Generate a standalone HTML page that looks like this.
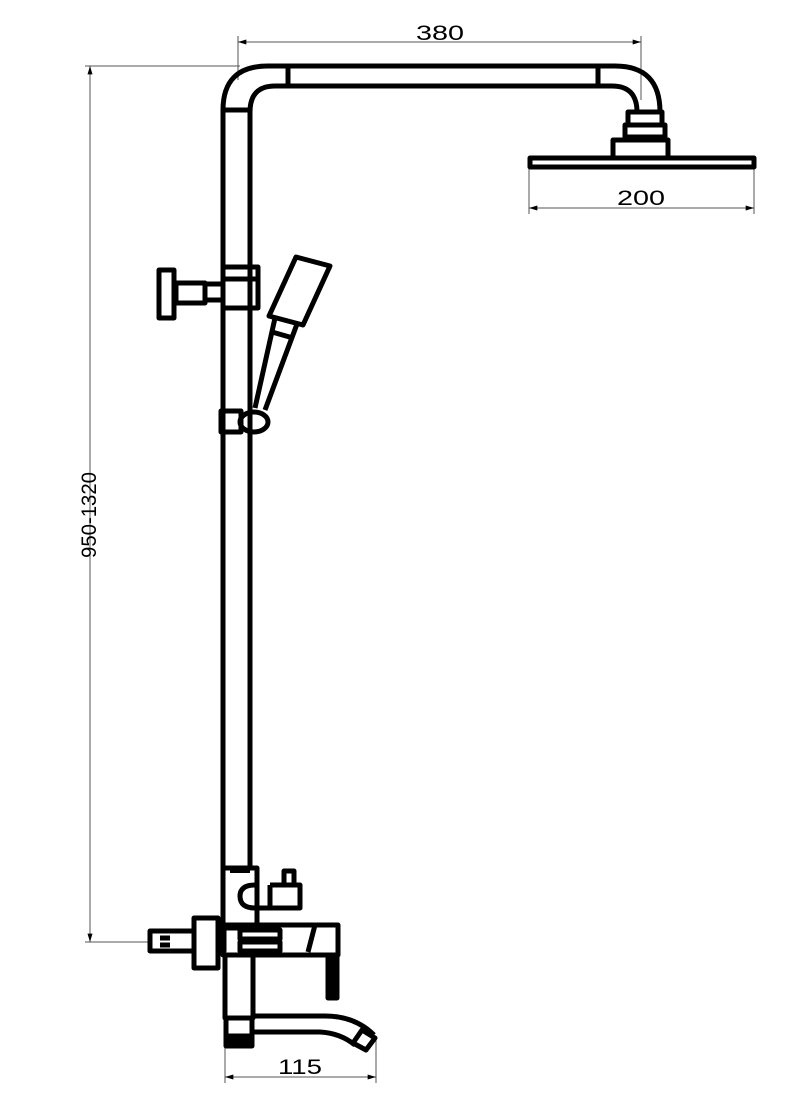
<!DOCTYPE html>
<html><head><meta charset="utf-8"><style>
html,body{margin:0;padding:0;background:#fff}
svg{display:block}
text{font-family:"Liberation Sans",sans-serif;fill:#000}
</style></head><body>
<svg width="788" height="1109" viewBox="0 0 788 1109">
<defs>
<marker id="a" viewBox="0 0 10 6" refX="10" refY="3" markerWidth="14" markerHeight="5" orient="auto-start-reverse"><path d="M0,0 L10,3 L0,6z" fill="#000"/></marker>
</defs>
<g stroke="#555" stroke-width="1" fill="none">
<line x1="85" y1="66" x2="240" y2="66"/>
<line x1="85" y1="942" x2="150" y2="942"/>
<line x1="90" y1="66" x2="90" y2="942" marker-start="url(#a)" marker-end="url(#a)"/>
<line x1="238" y1="36" x2="238" y2="80"/>
<line x1="641" y1="36" x2="641" y2="100"/>
<line x1="238" y1="42" x2="641" y2="42" marker-start="url(#a)" marker-end="url(#a)"/>
<line x1="529" y1="168" x2="529" y2="214"/>
<line x1="754" y1="168" x2="754" y2="214"/>
<line x1="529" y1="208" x2="754" y2="208" marker-start="url(#a)" marker-end="url(#a)"/>
<line x1="225" y1="1040" x2="225" y2="1083"/>
<line x1="376" y1="1040" x2="376" y2="1083"/>
<line x1="225" y1="1077" x2="376" y2="1077" marker-start="url(#a)" marker-end="url(#a)"/>
</g>
<text x="440" y="40" font-size="21" text-anchor="middle" textLength="48" lengthAdjust="spacingAndGlyphs">380</text>
<text x="641" y="205" font-size="21" text-anchor="middle" textLength="48" lengthAdjust="spacingAndGlyphs">200</text>
<text x="300" y="1074" font-size="21" text-anchor="middle" textLength="44" lengthAdjust="spacingAndGlyphs">115</text>
<text transform="translate(96,515) rotate(-90)" font-size="21" text-anchor="middle" textLength="86" lengthAdjust="spacingAndGlyphs">950-1320</text>

<g stroke="#000" stroke-width="5" fill="none" stroke-linejoin="round">
<path d="M223,868 L223,110 Q223,66 268,66 L615,66 Q660,66 660,112"/>
<path d="M250,868 L250,112 Q250,86 275,86 L612,86 Q637,86 637,112"/>
<line x1="223" y1="110" x2="250" y2="110"/>
<line x1="288" y1="66" x2="288" y2="86"/>
<line x1="598" y1="66" x2="598" y2="86"/>
<line x1="637" y1="112" x2="660" y2="112"/>
<rect x="628" y="112" width="34" height="13"/>
<rect x="625" y="125" width="40" height="12"/>
<rect x="613" y="140" width="55" height="18"/>
<rect x="530" y="158" width="224" height="9"/>
<rect x="223" y="267" width="35" height="41"/>
<line x1="223" y1="279" x2="258" y2="279"/>
<rect x="205" y="284" width="18" height="16"/>
<rect x="176" y="283" width="29" height="20"/>
<rect x="159" y="270" width="15" height="48"/>
<path d="M296,257 L330,266 L303,325 L269,316Z"/>
<path d="M275,318 L255,408 M297,324 L265,410"/>
<line x1="272" y1="332" x2="293" y2="338"/>
<rect x="221" y="411" width="20" height="21"/>
<ellipse cx="254" cy="422" rx="14" ry="10"/>
<rect x="223" y="868" width="34" height="60"/>
<line x1="230" y1="870" x2="250" y2="870" stroke-width="6"/>
<path d="M270,885 L300,885 L300,908 L255,908 Q240,908 240,896 Q240,885 255,885"/>
<line x1="270" y1="885" x2="270" y2="908"/>
<rect x="284" y="871" width="10" height="14"/>
<rect x="223" y="925" width="115" height="30"/>
<rect x="240" y="930" width="40" height="9"/>
<rect x="240" y="942" width="40" height="9"/>
<path d="M306,925 L315,925 L308,952"/>
<rect x="328" y="955" width="9" height="43" fill="#000"/>
<rect x="194" y="918" width="24" height="50"/>
<rect x="150" y="931" width="44" height="20"/>
<line x1="160" y1="938" x2="170" y2="938"/><line x1="160" y1="945" x2="170" y2="945"/>
<rect x="218" y="931" width="6" height="20"/>
<rect x="225" y="955" width="28" height="63"/>
<rect x="226" y="1018" width="26" height="18"/>
<rect x="226" y="1036" width="26" height="10" fill="#000"/>
<path d="M252,1016 L325,1016 Q355,1016 374,1035"/>
<path d="M252,1032 L320,1032 Q340,1033 355,1045"/>
<path d="M362,1030 L375,1038 L366,1050 L353,1043Z"/>
</g>
</svg>
</body></html>
